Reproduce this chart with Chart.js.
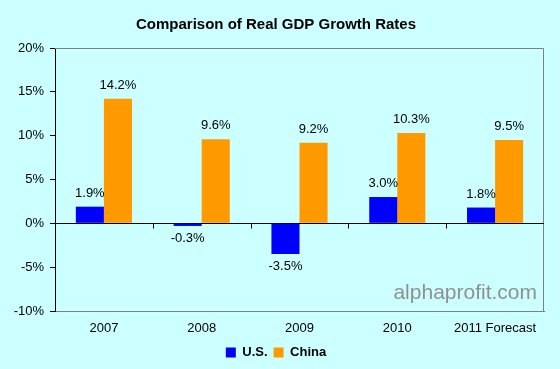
<!DOCTYPE html>
<html>
<head>
<meta charset="utf-8">
<script src="https://cdn.jsdelivr.net/npm/chart.js@4"></script>
<style>
  body { margin: 0; background: #ccffff; }
  #wrap { width: 560px; height: 369px; }
</style>
</head>
<body>
<div id="wrap"><canvas id="gdp" width="560" height="369"></canvas></div>
<script>
const categories = ['2007', '2008', '2009', '2010', '2011 Forecast']
const usGrowth = [1.9, -0.3, -3.5, 3.0, 1.8]
const chinaGrowth = [14.2, 9.6, 9.2, 10.3, 9.5]

const FONT = 'Arial, "Liberation Sans"'

// frame, zero line, value labels and watermark
const extras = {
  id: 'extras',
  afterDatasetsDraw (chart) {
    const { ctx, chartArea: a, scales: { x, y } } = chart
    ctx.save()
    ctx.strokeStyle = '#808080'
    ctx.lineWidth = 1
    ctx.beginPath()
    ctx.moveTo(a.left, a.top + 0.5)
    ctx.lineTo(a.right - 0.5, a.top + 0.5)
    ctx.lineTo(a.right - 0.5, a.bottom)
    ctx.stroke()

    const zero = Math.round(y.getPixelForValue(0)) + 0.5
    const step = x.getPixelForValue(1) - x.getPixelForValue(0)
    ctx.strokeStyle = '#000'
    ctx.beginPath()
    ctx.moveTo(a.left, zero)
    ctx.lineTo(a.right, zero)
    for (let i = 1; i < categories.length; i++) {
      const px = Math.round(x.getPixelForValue(i) - step / 2) + 0.5
      ctx.moveTo(px, zero)
      ctx.lineTo(px, zero + 5)
    }
    ctx.stroke()

    ctx.font = '13px ' + FONT
    ctx.fillStyle = '#000'
    ctx.textAlign = 'center'
    chart.data.datasets.forEach((ds, di) => {
      chart.getDatasetMeta(di).data.forEach((bar, i) => {
        const v = ds.data[i]
        if (v >= 0) {
          ctx.textBaseline = 'bottom'
          ctx.fillText(v.toFixed(1) + '%', bar.x, bar.y - 7)
        } else {
          ctx.textBaseline = 'top'
          ctx.fillText(v.toFixed(1) + '%', bar.x, bar.y + 6)
        }
      })
    })

    ctx.font = '21px ' + FONT
    ctx.fillStyle = '#909090'
    ctx.textAlign = 'right'
    ctx.textBaseline = 'middle'
    ctx.fillText('alphaprofit.com', a.right - 7, a.bottom - 18)
    ctx.restore()
  }
}

new Chart(document.getElementById('gdp'), {
  type: 'bar',
  data: {
    labels: categories,
    datasets: [
      { label: 'U.S.', data: usGrowth, backgroundColor: '#0000ff' },
      { label: 'China', data: chinaGrowth, backgroundColor: '#ff9900' }
    ]
  },
  options: {
    responsive: false,
    animation: false,
    categoryPercentage: 0.574,
    barPercentage: 1,
    layout: { padding: { left: 8, right: 16, top: 0, bottom: 0 } },
    plugins: {
      title: {
        display: true,
        text: 'Comparison of Real GDP Growth Rates',
        color: '#000',
        font: { family: FONT, size: 15, weight: 'bold' },
        padding: { top: 16, bottom: 14 }
      },
      legend: {
        position: 'bottom',
        labels: {
          color: '#000',
          boxWidth: 10,
          boxHeight: 10,
          padding: 6,
          font: { family: FONT, size: 13, weight: 'bold' }
        }
      },
      tooltip: { enabled: false }
    },
    scales: {
      x: {
        grid: { display: false },
        border: { color: '#808080' },
        afterFit: s => { s.height = 29 },
        ticks: {
          color: '#000',
          padding: 2,
          font: { family: FONT, size: 13 }
        }
      },
      y: {
        min: -10,
        max: 20,
        afterFit: s => { s.width = 47 },
        grid: { drawOnChartArea: false, color: '#000', tickLength: 5 },
        border: { color: '#000' },
        ticks: {
          stepSize: 5,
          color: '#000',
          padding: 6,
          font: { family: FONT, size: 13 },
          callback: v => v + '%'
        }
      }
    }
  },
  plugins: [extras]
})
</script>
</body>
</html>
